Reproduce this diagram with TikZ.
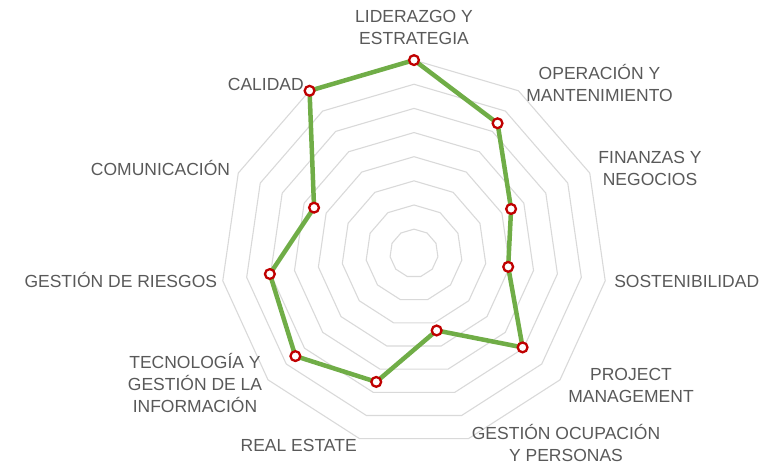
\documentclass[tikz,border=0pt]{standalone}
\usepackage{fontspec}
\setmainfont{Liberation Sans}

\definecolor{ringgray}{RGB}{217,217,217}
\definecolor{seriesgreen}{RGB}{112,173,71}
\definecolor{markred}{RGB}{192,0,0}
\definecolor{labelgray}{RGB}{89,89,89}

\begin{document}
\begin{tikzpicture}[x=1pt,y=1pt,
    ring/.style={draw=ringgray,line width=1.1pt,line join=round},
    series/.style={draw=seriesgreen,line width=4.5pt,line join=round},
    dot/.style={circle,draw=markred,fill=white,line width=2.3pt,inner sep=0pt,minimum size=9.8pt},
    axislabel/.style={text=labelgray,font=\fontsize{17.5}{22}\selectfont,align=center,inner sep=0pt,anchor=south}]
    \useasboundingbox (0,-465) rectangle (781,0);
    \coordinate (c) at (414,-253.3);

    \begin{scope}[shift={(c)}]
        % grid rings
        \foreach \k in {1,...,8}
            \draw[ring] (90:\k*24.15) \foreach \i in {1,...,10} {-- ({90-\i*360/11}:\k*24.15)} -- cycle;
        % series values
        \foreach \v [count=\i from 0] in {8,6.4,4.42,3.94,5.95,3.33,5.55,6.5,6.03,4.55,8}
            \coordinate (v_\i) at ({90-\i*360/11}:\v*24.15);
        \draw[series] (v_0) \foreach \i in {1,...,10} {-- (v_\i)} -- cycle;
        \foreach \i in {0,...,10}
            \node[dot] (m_\i) at (v_\i) {};
    \end{scope}

    % axis labels
    \node[axislabel] (l_0)  at (414,-45)    {LIDERAZGO Y\\ESTRATEGIA};
    \node[axislabel] (l_1)  at (599.5,-101.7) {OPERACIÓN Y\\MANTENIMIENTO};
    \node[axislabel] (l_2)  at (650,-186)   {FINANZAS Y\\NEGOCIOS};
    \node[axislabel] (l_3)  at (686.7,-288.3) {SOSTENIBILIDAD};
    \node[axislabel] (l_4)  at (631,-402.7) {PROJECT\\MANAGEMENT};
    \node[axislabel] (l_5)  at (566,-462)   {GESTIÓN OCUPACIÓN\\Y PERSONAS};
    \node[axislabel] (l_6)  at (298.7,-452.3) {REAL ESTATE};
    \node[axislabel] (l_7)  at (195,-413.3) {TECNOLOGÍA Y\\GESTIÓN DE LA\\INFORMACIÓN};
    \node[axislabel] (l_8)  at (120.8,-288.3) {GESTIÓN DE RIESGOS};
    \node[axislabel] (l_9)  at (160.5,-175.7) {COMUNICACIÓN};
    \node[axislabel] (l_10) at (265.8,-90.7) {CALIDAD};
\end{tikzpicture}
\end{document}
